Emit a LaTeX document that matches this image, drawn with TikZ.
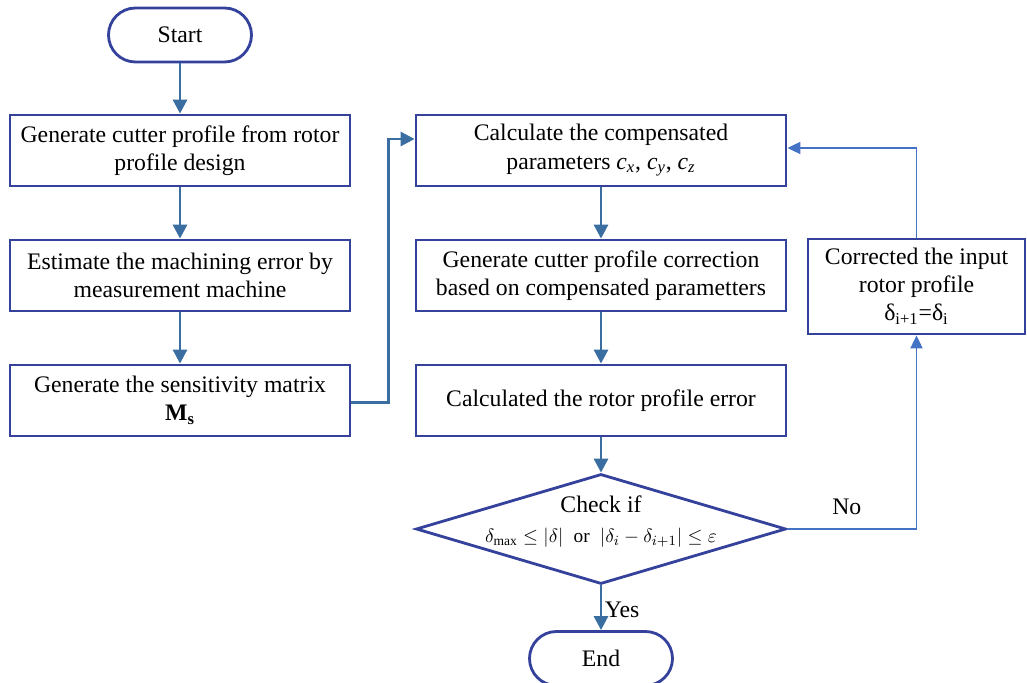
\documentclass[tikz,border=0pt]{standalone}
\usepackage{fontspec}
\setmainfont{Liberation Serif}
\usepackage{amsmath}
\usepackage{xcolor}
\usepackage{tikz}
\usetikzlibrary{shapes.geometric, arrows.meta, calc}
\definecolor{boxblue}{RGB}{52,66,156}
\definecolor{arrowblue}{RGB}{58,110,160}
\definecolor{feedblue}{RGB}{68,114,196}
\tikzstyle{block} = [rectangle, minimum width=6.8cm, minimum height=1.42cm, align=center, draw=boxblue, line width=1.6pt, fill=white]
\tikzstyle{block2} = [rectangle, minimum width=7.4cm, minimum height=1.42cm, align=center, draw=boxblue, line width=1.6pt, fill=white]
\tikzstyle{block3} = [rectangle, minimum width=4.34cm, minimum height=1.9cm, align=center, draw=boxblue, line width=1.6pt, fill=white]
\tikzstyle{choix} = [diamond, minimum width=7.4cm, minimum height=2.2cm, inner sep=0pt, draw=boxblue, line width=1.6pt, fill=white]
\tikzstyle{terminus} = [rectangle, rounded corners=0.54cm, minimum width=2.86cm, minimum height=1.08cm, align=center, draw=boxblue, line width=1.6pt, fill=white]
\tikzstyle{arrow} = [draw=arrowblue, line width=1.6pt, -{Triangle[length=0.28cm, width=0.28cm]}]
\tikzstyle{arrow2} = [draw=feedblue, line width=1.1pt, -{Triangle[length=0.26cm, width=0.24cm]}]

\begin{document}
\begin{tikzpicture}[node distance=2.5cm, font=\fontsize{13.5}{16}\selectfont]
        \useasboundingbox (0,0) rectangle (20.54,-13.66);
        \node (start) [terminus] at (3.6,-0.7) {Start};
        \node (gen) [block, below of=start, yshift=+0.19cm] {Generate cutter profile from rotor\\profile design};
        \node (est) [block, below of=gen] {Estimate the machining error by\\measurement machine};
        \node (sens) [block, below of=est] {Generate the sensitivity matrix\\\textbf{M\textsubscript{s}}};
        \node (comp) [block2, right of=gen, xshift=+5.92cm] {Calculate the compensated\\parameters \textit{c\textsubscript{x}}, \textit{c\textsubscript{y}}, \textit{c\textsubscript{z}}};
        \node (corr) [block2, below of=comp] {Generate cutter profile correction\\based on compensated parametters};
        \node (err) [block2, below of=corr] {Calculated the rotor profile error};
        \node (check) [choix, below of=err, yshift=-0.07cm, label={[yshift=0.15cm, align=center]center:Check if\\[1pt]{\fontsize{11}{13}\selectfont$\delta_{\max}\le\left|\delta\right|$\; or \;$\left|\delta_i-\delta_{i+1}\right|\le\varepsilon$}}] {};
        \node (stop) [terminus, below of=check, yshift=-0.09cm] {End};
        \node (input) [block3, right of=corr, xshift=+3.81cm, yshift=-0.22cm] {Corrected the input\\rotor profile\\δ\textsubscript{i+1}=δ\textsubscript{i}};

        \draw [arrow] (start) -- (gen);
        \draw [arrow] (gen) -- (est);
        \draw [arrow] (est) -- (sens);
        \draw [arrow] ([yshift=-0.04cm]sens.east) -- ++(0.74,0) |- ([yshift=+0.23cm]comp.west);
        \draw [arrow] (comp) -- (corr);
        \draw [arrow] (corr) -- (err);
        \draw [arrow] (err) -- (check);
        \draw [arrow] (check) -- node[right, xshift=-2pt, yshift=-1pt] {Yes} (stop);
        \draw [arrow2] (check.east) -| node[pos=0.23, above, yshift=4pt] {No} (input.south);
        \draw [arrow2] (input.north) |- ([yshift=+0.05cm]comp.east);
     \end{tikzpicture}
\end{document}
